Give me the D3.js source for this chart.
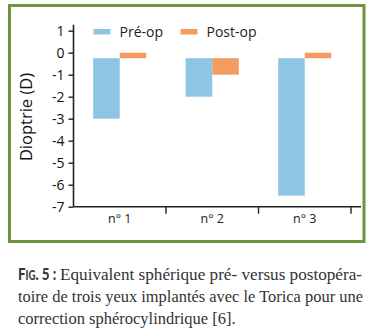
<!DOCTYPE html>
<html>
<head>
<meta charset="utf-8">
<script src="https://cdn.jsdelivr.net/npm/d3@7/dist/d3.min.js"></script>
<style>
  html, body { margin: 0; padding: 0; background: #fff; }
  svg { display: block; }
</style>
</head>
<body>
<svg id="chart" width="376" height="336"></svg>
<script>
// Spherical equivalent (D) per eye, before and after surgery
const eyes = ["n° 1", "n° 2", "n° 3"];
const series = ["Pré-op", "Post-op"];
const preOp = [-3, -2, -6.5];
const postOp = [0, -1, 0];
const yTicks = [1, 0, -1, -2, -3, -4, -5, -6, -7];
const baseline = -0.25;   // horizontal axis crossing value used by the bars
const colors = ["#8ec5e6", "#f29c62"];
const captionHead = "Fig. 5 :";
const captionLines = [
  "Equivalent sphérique pré- versus postopéra-",
  "toire de trois yeux implantés avec le Torica pour une",
  "correction sphérocylindrique [6]."
];

const svg = d3.select("#chart");
const axisFont = "'Open Sans', 'Noto Sans', sans-serif";

// frame
svg.append("rect")
  .attr("x", 9.5).attr("y", 5.5).attr("width", 354.5).attr("height", 236)
  .attr("fill", "none").attr("stroke", "#6f9441").attr("stroke-width", 3);

const plot = { left: 73.5, right: 351, top: 30.7, bottom: 206.7 };

const y = d3.scaleLinear().domain([1, -7]).range([plot.top, plot.bottom]);
const x = d3.scaleBand().domain(eyes).range([plot.left, plot.right])
  .paddingInner(0.425).paddingOuter(0.2125);
const xs = d3.scaleBand().domain(series).range([0, x.bandwidth()]);

// bars
const rows = eyes.map((e, i) => ({ eye: e, values: [preOp[i], postOp[i]] }));
const g = svg.append("g");
rows.forEach(r => {
  r.values.forEach((v, j) => {
    const y0 = y(Math.max(v, baseline)), y1 = y(Math.min(v, baseline));
    g.append("rect")
      .attr("x", x(r.eye) + xs(series[j]))
      .attr("y", y0)
      .attr("width", xs.bandwidth())
      .attr("height", y1 - y0)
      .attr("fill", colors[j]);
  });
});

// y axis
const yAxis = svg.append("g")
  .attr("transform", `translate(${plot.left},0)`)
  .call(d3.axisLeft(y).tickValues(yTicks).tickSize(5).tickPadding(4)
    .tickFormat(d3.format("d")));
yAxis.select(".domain").attr("d", `M0,${plot.top - 6}V${plot.bottom}`)
  .attr("stroke", "#222").attr("stroke-width", 1.6);
yAxis.selectAll(".tick line").attr("stroke", "#222").attr("stroke-width", 1.4);
yAxis.selectAll(".tick text")
  .attr("font-family", axisFont).attr("font-size", 14)
  .attr("fill", "#111").text(d => d < 0 ? "-" + Math.abs(d) : d);

// x axis with ticks at category boundaries
const xAxisG = svg.append("g").attr("transform", `translate(0,${plot.bottom})`);
xAxisG.append("line").attr("x1", plot.left).attr("x2", 361)
  .attr("stroke", "#222").attr("stroke-width", 1.6);
const bounds = eyes.map((e, i) => plot.left + (i + 1) * (plot.right - plot.left) / eyes.length);
xAxisG.selectAll(".xt").data(bounds).join("line")
  .attr("x1", d => d).attr("x2", d => d).attr("y1", 0).attr("y2", 7)
  .attr("stroke", "#222").attr("stroke-width", 1.4);
xAxisG.selectAll(".xl").data(eyes).join("text")
  .attr("x", d => plot.left + (eyes.indexOf(d) + 0.5) * (plot.right - plot.left) / eyes.length)
  .attr("y", 16)
  .attr("text-anchor", "middle")
  .attr("font-family", axisFont).attr("font-size", 12.5)
  .attr("fill", "#222").text(d => d);

// y label
svg.append("text")
  .attr("transform", `translate(32,117) rotate(-90)`)
  .attr("text-anchor", "middle")
  .attr("font-family", axisFont).attr("font-size", 16.5)
  .attr("fill", "#111").text("Dioptrie (D)");

// legend
const legX = [93.5, 180.5];
series.forEach((s, j) => {
  svg.append("rect").attr("x", legX[j]).attr("y", 29).attr("width", 17).attr("height", 5.5)
    .attr("fill", colors[j]);
  svg.append("text").attr("x", legX[j] + 26).attr("y", 36.5)
    .attr("font-family", axisFont).attr("font-size", 14)
    .attr("fill", "#222").text(s);
});

// caption: bold small-caps lead, condensed to fit before the body text
const cap = svg.append("g").attr("font-family", "'Liberation Serif', 'DejaVu Serif', serif")
  .attr("fill", "#333");
const head = cap.append("text")
  .attr("font-family", "'Lato', 'Open Sans', sans-serif").attr("font-weight", 900)
  .attr("font-size", 17).attr("font-variant", "small-caps").attr("fill", "#3a3a3a")
  .text(captionHead);
const headW = head.node().getComputedTextLength();
head.attr("transform", `translate(18,280) scale(${38 / headW},1)`);
const lineY = [280, 302, 324];
cap.append("text").attr("x", 60).attr("y", lineY[0]).attr("font-size", 16.5)
  .attr("textLength", 302).attr("lengthAdjust", "spacingAndGlyphs").text(captionLines[0]);
cap.append("text").attr("x", 18).attr("y", lineY[1]).attr("font-size", 16.5)
  .attr("textLength", 345).attr("lengthAdjust", "spacingAndGlyphs").text(captionLines[1]);
cap.append("text").attr("x", 18).attr("y", lineY[2]).attr("font-size", 16.5)
  .text(captionLines[2]);
</script>
</body>
</html>
